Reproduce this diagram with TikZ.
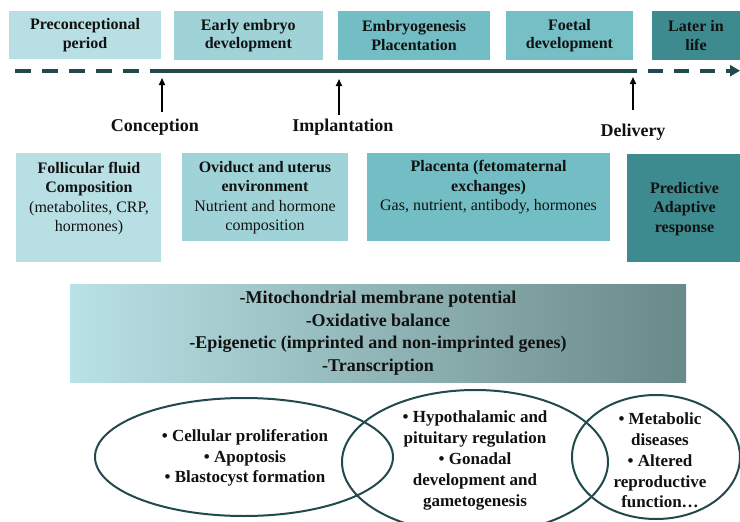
\documentclass[tikz,border=0pt]{standalone}
\usepackage{fontspec}
\setmainfont{Liberation Serif}
\usetikzlibrary{arrows.meta,shapes.geometric}
\definecolor{cA}{HTML}{B8E0E4}
\definecolor{cB}{HTML}{9FD3D7}
\definecolor{cC}{HTML}{72BEC4}
\definecolor{cD}{HTML}{75BFC5}
\definecolor{cE}{HTML}{3E8B8F}
\definecolor{gL}{HTML}{B9E2E6}
\definecolor{gR}{HTML}{6A8989}
\definecolor{tline}{HTML}{224A4C}
\definecolor{txt}{HTML}{111111}
\tikzset{
  topbox/.style={rectangle, inner sep=0pt, draw=none, fill=#1},
  toptext/.style={align=center, inner sep=0pt, text=txt, font=\bfseries\fontsize{16}{18.5}\selectfont},
  midtext/.style={align=center, inner sep=0pt, text=txt, font=\fontsize{16}{19.5}\selectfont},
  evlabel/.style={inner sep=0pt, text=txt, font=\bfseries\fontsize{18}{21}\selectfont},
  evarrow/.style={line width=1.6pt, black, -{Triangle[length=7pt,width=6pt]}},
  tl/.style={line width=4pt, tline},
  ell/.style={ellipse, draw=tline, line width=2pt, inner sep=0pt},
  elltext/.style={align=center, inner sep=0pt, text=txt, font=\bfseries\fontsize{17}{20.8}\selectfont},
}
\begin{document}
\begin{tikzpicture}[x=1pt,y=-1pt]
\useasboundingbox (0,0) rectangle (740,522);
% top boxes
\node[topbox=cA, minimum width=152, minimum height=48] (b1) at (85,35) {};
\node[topbox=cB, minimum width=149, minimum height=49] (b2) at (248.3,35.5) {};
\node[topbox=cC, minimum width=152, minimum height=49] (b3) at (414,35.5) {};
\node[topbox=cD, minimum width=127, minimum height=49] (b4) at (569.5,35.5) {};
\node[topbox=cE, minimum width=88, minimum height=49] (b5) at (696,35.5) {};
\node[toptext] (t1) at (b1.center) {Preconceptional\\period};
\node[toptext] (t2) at (b2.center) {Early embryo\\development};
\node[toptext] (t3) at (b3.center) {Embryogenesis\\Placentation};
\node[toptext] (t4) at (b4.center) {Foetal\\development};
\node[toptext] (t5) at (b5.center) {Later in\\life};
% timeline
\coordinate (t0) at (15,70.7);
\coordinate (tc) at (162,70.7);
\coordinate (td) at (622,70.7);
\coordinate (te) at (740,70.7);
\draw[tl, dash pattern=on 16pt off 11pt] (t0) -- (tc);
\draw[tl] (tc) -- (td);
\draw[tl, dash pattern=on 15pt off 11pt, -{Triangle[length=10pt,width=11pt]}] (td) -- (te);
% event arrows
\coordinate (a1) at (162,78);
\coordinate (a1s) at (162,112);
\coordinate (a2) at (339,79);
\coordinate (a2s) at (339,115);
\coordinate (a3) at (633,77);
\coordinate (a3s) at (633,110);
\draw[evarrow] (a1s) -- (a1);
\draw[evarrow] (a2s) -- (a2);
\draw[evarrow] (a3s) -- (a3);
\node[evlabel] (l1) at (155,127.5) {Conception};
\node[evlabel] (l2) at (343,127.5) {Implantation};
\node[evlabel] (l3) at (633,132.5) {Delivery};
% middle boxes
\node[topbox=cA, minimum width=145, minimum height=109] (m1) at (88.5,207.5) {};
\node[topbox=cB, minimum width=166, minimum height=88] (m2) at (265,197) {};
\node[topbox=cC, minimum width=243, minimum height=88] (m3) at (488.5,197) {};
\node[topbox=cE, minimum width=113, minimum height=108] (m4) at (683.5,208) {};
\node[midtext] (mt1) at (89,198.5) {\textbf{Follicular fluid}\\\textbf{Composition}\\(metabolites, CRP,\\hormones)};
\node[midtext] (mt2) at (265,197.5) {\textbf{Oviduct and uterus}\\\textbf{environment}\\Nutrient and hormone\\composition};
\node[midtext] (mt3) at (488.5,187.5) {\textbf{Placenta (fetomaternal}\\\textbf{exchanges)}\\Gas, nutrient, antibody, hormones};
\node[midtext, font=\bfseries\fontsize{16}{19.5}\selectfont] (mt4) at (684.5,209) {Predictive\\Adaptive\\response};
% gradient box
\node[rectangle, inner sep=0pt, left color=gL, right color=gR, minimum width=616, minimum height=98] (g) at (378,333) {};
\node[align=center, inner sep=0pt, text=txt, font=\bfseries\fontsize{18}{22.5}\selectfont] (gt) at (g.center) {-Mitochondrial membrane potential\\-Oxidative balance\\-Epigenetic (imprinted and non-imprinted genes)\\-Transcription};
% ellipses
\node[ell, minimum width=298, minimum height=118] (e1) at (244,457) {};
\node[ell, minimum width=266, minimum height=144] (e2) at (475,462) {};
\node[ell, minimum width=168, minimum height=124] (e3) at (656,457) {};
\node[elltext] (et1) at (245,458) {• Cellular proliferation\\• Apoptosis\\• Blastocyst formation};
\node[elltext] (et2) at (475,460.5) {• Hypothalamic and\\pituitary regulation\\• Gonadal\\development and\\gametogenesis};
\node[elltext] (et3) at (660,460.5) {• Metabolic\\diseases\\• Altered\\reproductive\\function…};
\end{tikzpicture}
\end{document}
